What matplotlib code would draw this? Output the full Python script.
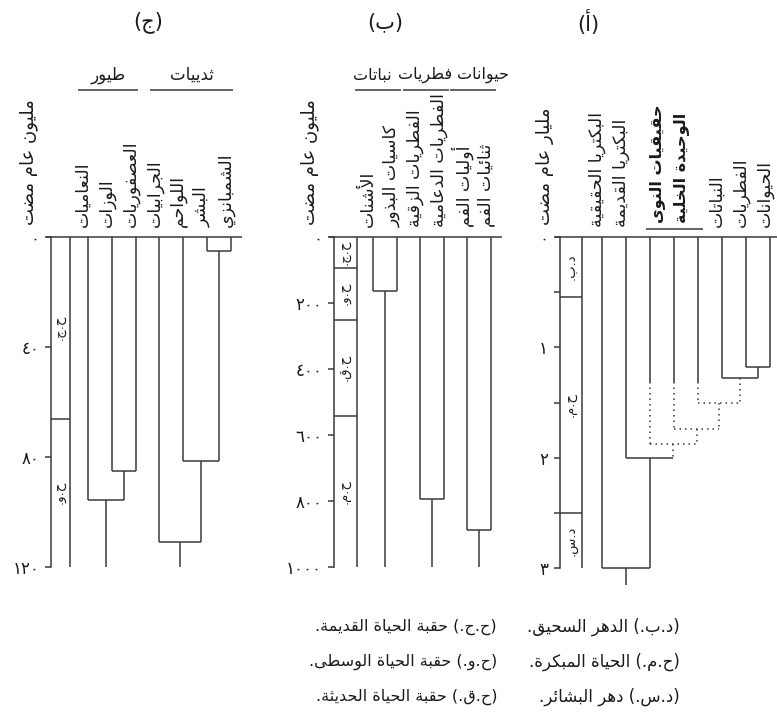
import matplotlib
matplotlib.use("Agg")
import matplotlib.pyplot as plt

# ---------------- data ----------------
# Panel (a): billion years ago
a_leaves = ["البكتريا الحقيقية", "البكتريا القديمة", "", "", "", "النباتات", "الفطريات", "الحيوانات"]
a_nodes = [("L6", "L7", 1.18), ("L5", "N0", 1.28), ("L4", "N1", 1.50),
           ("L3", "N2", 1.74), ("L2", "N3", 1.88), ("L1", "N4", 2.00), ("L0", "N5", 3.00)]
a_roots = [("N6", 3.15)]
a_dotted_stems = ["N1", "N2", "N3", "N4"]
a_dotted_h = ["N2", "N3", "N4"]
a_tip_solid = {2: 1.31, 3: 1.31, 4: 1.31}
a_eras = ["د.ب.", "ح.م.", "د.س."]
a_era_bounds = [0, 0.54, 2.5, 3.0]
a_ticks = [0, 0.5, 1, 1.5, 2, 2.5, 3]
a_tick_labels = ["٠", "", "١", "", "٢", "", "٣"]
a_group = ["حقيقيات النوى", "الوحيدة الخلية"]
a_ylabel = "مليار عام مضت"

# Panel (b): million years ago
b_leaves = ["الأشنات", "كاسيات البذور", "الفطريات الزقية", "الفطريات الدعامية", "أوليات الفم", "ثنائيات الفم"]
b_nodes = [("L0", "L1", 164), ("L2", "L3", 794), ("L4", "L5", 888)]
b_roots = [("N0", 1000), ("N1", 1000), ("N2", 1000)]
b_eras = ["ح.ج.", "ح.و.", "ح.ق.", "ح.م."]
b_era_bounds = [0, 93, 251, 541, 1000]
b_ticks = [0, 200, 400, 600, 800, 1000]
b_tick_labels = ["٠", "٢٠٠", "٤٠٠", "٦٠٠", "٨٠٠", "١٠٠٠"]
b_groups = ["نباتات", "فطريات", "حيوانات"]
b_group_leaves = [(0, 1), (2, 3), (4, 5)]
b_ylabel = "مليون عام مضت"

# Panel (c): million years ago
c_leaves = ["النعاميات", "الوزات", "العصفوريات", "الجرابيات", "اللواحم", "البشر", "الشمبانزي"]
c_nodes = [("L1", "L2", 85), ("L0", "N0", 95.6), ("L5", "L6", 5),
           ("L4", "N2", 81.5), ("L3", "N3", 111)]
c_roots = [("N1", 120), ("N4", 120)]
c_eras = ["ح.ج.", "ح.و."]
c_era_bounds = [0, 66, 120]
c_ticks = [0, 40, 80, 120]
c_tick_labels = ["٠", "٤٠", "٨٠", "١٢٠"]
c_groups = ["طيور", "ثدييات"]
c_group_leaves = [(0, 2), (3, 6)]
c_ylabel = "مليون عام مضت"

titles = ["(ج)", "(ب)", "(أ)"]
legend_right = ["(د.ب.) الدهر السحيق.", "(ح.م.) الحياة المبكرة.", "(د.س.) دهر البشائر."]
legend_left = ["(ح.ح.) حقبة الحياة القديمة.", "(ح.و.) حقبة الحياة الوسطى.", "(ح.ق.) حقبة الحياة الحديثة."]

# ---------------- Arabic shaping ----------------
_F = {
    '\u0621': ('\uFE80', None, None, None),
    '\u0622': ('\uFE81', '\uFE82', None, None),
    '\u0623': ('\uFE83', '\uFE84', None, None),
    '\u0624': ('\uFE85', '\uFE86', None, None),
    '\u0625': ('\uFE87', '\uFE88', None, None),
    '\u0626': ('\uFE89', '\uFE8A', '\uFE8B', '\uFE8C'),
    '\u0627': ('\uFE8D', '\uFE8E', None, None),
    '\u0628': ('\uFE8F', '\uFE90', '\uFE91', '\uFE92'),
    '\u0629': ('\uFE93', '\uFE94', None, None),
    '\u062A': ('\uFE95', '\uFE96', '\uFE97', '\uFE98'),
    '\u062B': ('\uFE99', '\uFE9A', '\uFE9B', '\uFE9C'),
    '\u062C': ('\uFE9D', '\uFE9E', '\uFE9F', '\uFEA0'),
    '\u062D': ('\uFEA1', '\uFEA2', '\uFEA3', '\uFEA4'),
    '\u062E': ('\uFEA5', '\uFEA6', '\uFEA7', '\uFEA8'),
    '\u062F': ('\uFEA9', '\uFEAA', None, None),
    '\u0630': ('\uFEAB', '\uFEAC', None, None),
    '\u0631': ('\uFEAD', '\uFEAE', None, None),
    '\u0632': ('\uFEAF', '\uFEB0', None, None),
    '\u0633': ('\uFEB1', '\uFEB2', '\uFEB3', '\uFEB4'),
    '\u0634': ('\uFEB5', '\uFEB6', '\uFEB7', '\uFEB8'),
    '\u0635': ('\uFEB9', '\uFEBA', '\uFEBB', '\uFEBC'),
    '\u0636': ('\uFEBD', '\uFEBE', '\uFEBF', '\uFEC0'),
    '\u0637': ('\uFEC1', '\uFEC2', '\uFEC3', '\uFEC4'),
    '\u0638': ('\uFEC5', '\uFEC6', '\uFEC7', '\uFEC8'),
    '\u0639': ('\uFEC9', '\uFECA', '\uFECB', '\uFECC'),
    '\u063A': ('\uFECD', '\uFECE', '\uFECF', '\uFED0'),
    '\u0641': ('\uFED1', '\uFED2', '\uFED3', '\uFED4'),
    '\u0642': ('\uFED5', '\uFED6', '\uFED7', '\uFED8'),
    '\u0643': ('\uFED9', '\uFEDA', '\uFEDB', '\uFEDC'),
    '\u0644': ('\uFEDD', '\uFEDE', '\uFEDF', '\uFEE0'),
    '\u0645': ('\uFEE1', '\uFEE2', '\uFEE3', '\uFEE4'),
    '\u0646': ('\uFEE5', '\uFEE6', '\uFEE7', '\uFEE8'),
    '\u0647': ('\uFEE9', '\uFEEA', '\uFEEB', '\uFEEC'),
    '\u0648': ('\uFEED', '\uFEEE', None, None),
    '\u0649': ('\uFEEF', '\uFEF0', None, None),
    '\u064A': ('\uFEF1', '\uFEF2', '\uFEF3', '\uFEF4'),
}
_LA = {'\u0622': ('\uFEF5', '\uFEF6'), '\u0623': ('\uFEF7', '\uFEF8'),
       '\u0625': ('\uFEF9', '\uFEFA'), '\u0627': ('\uFEFB', '\uFEFC')}
_MIRROR = {'(': ')', ')': '('}


def _dual(c):
    return c in _F and _F[c][2] is not None


def ar(s):
    out = []
    i, n = 0, len(s)
    while i < n:
        c = s[i]
        if c not in _F:
            out.append(c)
            i += 1
            continue
        prev = s[i - 1] if i > 0 else None
        pj = prev is not None and _dual(prev) and c != '\u0621'
        if c == '\u0644' and i + 1 < n and s[i + 1] in _LA:
            iso, fin = _LA[s[i + 1]]
            out.append(fin if pj else iso)
            i += 2
            continue
        nxt = s[i + 1] if i + 1 < n else None
        nj = nxt is not None and nxt in _F and nxt != '\u0621' and _dual(c)
        iso, fin, ini, med = _F[c]
        if pj and nj:
            g = med
        elif pj:
            g = fin
        elif nj:
            g = ini
        else:
            g = iso
        out.append(g or iso)
        i += 1
    return ''.join(_MIRROR.get(ch, ch) for ch in reversed(out))


# ---------------- drawing ----------------
W, H = 777, 719
plt.rcParams['font.family'] = ['DejaVu Sans']
fig = plt.figure(figsize=(W / 100, H / 100), dpi=100)
LC = '#3a3a3a'
TC = '#1a1a1a'
LW = 1.1
DOT = (0, (1, 2.6))
LEAF_FS = 12.5


def make_panel(axis_px, leaf0_px, sp_px, right_px, top_px, bot_px, ymax):
    ax = fig.add_axes([axis_px / W, 1 - bot_px / H, (right_px - axis_px) / W, (bot_px - top_px) / H])
    ax.set_xlim((axis_px - leaf0_px) / sp_px, (right_px - leaf0_px) / sp_px)
    ax.set_ylim(ymax, 0)
    ax.patch.set_alpha(0)
    for s in ['top', 'right', 'bottom']:
        ax.spines[s].set_visible(False)
    ax.spines['left'].set_bounds(0, ymax)
    ax.spines['left'].set_color(LC)
    ax.spines['left'].set_linewidth(LW)
    ax.set_xticks([])
    ax.tick_params(axis='y', length=4.5, width=LW, color=LC, pad=4, labelsize=12, labelcolor=TC)
    ax.ppu = (bot_px - top_px) / ymax  # pixels per y unit
    ax.sp = sp_px
    return ax


def ln(ax, xs, ys, dotted=False):
    ax.plot(xs, ys, color=LC, lw=LW, ls=DOT if dotted else '-', clip_on=False,
            solid_capstyle='butt', dash_capstyle='butt')


def draw_tree(ax, n_leaves, nodes, roots, dotted_stems=(), dotted_h=(), tip_solid=None):
    tip_solid = tip_solid or {}
    pos = {f"L{i}": (float(i), 0.0) for i in range(n_leaves)}
    for j, (a, b, age) in enumerate(nodes):
        nid = f"N{j}"
        xa, _ = pos[a]
        xb, _ = pos[b]
        ln(ax, [xa, xb], [age, age], nid in dotted_h)
        for cid in (a, b):
            cx, ct = pos[cid]
            if cid.startswith('L') and int(cid[1:]) in tip_solid:
                s = tip_solid[int(cid[1:])]
                ln(ax, [cx, cx], [ct, s])
                ln(ax, [cx, cx], [s, age], True)
            else:
                ln(ax, [cx, cx], [ct, age], cid in dotted_stems)
        pos[nid] = ((xa + xb) / 2, age)
    for nid, end in roots:
        x, t = pos[nid]
        ln(ax, [x, x], [t, end])


def frame(ax, n_leaves, era_w_px, eras, bounds, ticks, tick_labels, ylabel, ylabel_dx):
    x0 = ax.get_xlim()[0]
    ymax = ax.get_ylim()[0]
    ex = x0 + era_w_px / ax.sp
    # top line at 0
    ln(ax, [x0 - 5 / ax.sp, n_leaves - 1 + 0.45], [0, 0])
    ln(ax, [ex, ex], [0, ymax])
    for b in bounds[1:-1]:
        ln(ax, [x0, ex], [b, b])
    for k, e in enumerate(eras):
        ax.text((x0 + ex) / 2, (bounds[k] + bounds[k + 1]) / 2, ar(e), rotation=90,
                ha='center', va='center', fontsize=9.5, color=TC)
    ax.set_yticks(ticks)
    ax.set_yticklabels(tick_labels)
    ax.annotate(ar(ylabel), xy=(x0, 0), xytext=(ylabel_dx, 12), textcoords='offset pixels',
                rotation=90, ha='center', va='bottom', fontsize=13, color=TC, annotation_clip=False)


def leaf_labels(ax, labels, dx=-5, dy=10, **kw):
    for i, lab in enumerate(labels):
        if lab:
            ax.annotate(ar(lab), xy=(i, 0), xytext=(dx, dy), textcoords='offset pixels',
                        rotation=90, ha='center', va='bottom', color=TC,
                        annotation_clip=False, **kw)


def groups(ax, names, spans, lo=-0.45, hi=0.15, line_px=147, text_px=162, fs=12, shifts=None):
    shifts = shifts or [0] * len(names)
    for name, (i, j), sh in zip(names, spans, shifts):
        yl = -line_px / ax.ppu
        ln(ax, [i + lo, j + hi], [yl, yl])
        ax.text((i + lo + j + hi) / 2 + sh / ax.sp, -text_px / ax.ppu, ar(name), ha='center',
                va='center', fontsize=fs, color=TC)


# Panel (a)
axa = make_panel(560, 602, 24.0, 777, 237, 568, 3.0)
frame(axa, len(a_leaves), 22, a_eras, a_era_bounds, a_ticks, a_tick_labels, a_ylabel, -15)
draw_tree(axa, len(a_leaves), a_nodes, a_roots, a_dotted_stems, a_dotted_h, a_tip_solid)
leaf_labels(axa, a_leaves, fontsize=LEAF_FS)
leaf_labels(axa, [""] * 2 + a_group, dx=7, dy=14, fontsize=11.5, fontweight='bold')
yl = -8 / axa.ppu
ln(axa, [2 - 0.17, 4 + 0.2], [yl, yl])

# Panel (b)
axb = make_panel(334, 373, 23.6, 505, 237, 567, 1000)
frame(axb, len(b_leaves), 23, b_eras, b_era_bounds, b_ticks, b_tick_labels, b_ylabel, -24)
draw_tree(axb, len(b_leaves), b_nodes, b_roots)
leaf_labels(axb, b_leaves, fontsize=LEAF_FS)
groups(axb, b_groups, b_group_leaves, lo=-0.75, hi=0.2, fs=11.5, shifts=[-6, 0, 10])

# Panel (c)
axc = make_panel(51, 88, 23.8, 250, 237, 567, 120)
frame(axc, len(c_leaves), 19, c_eras, c_era_bounds, c_ticks, c_tick_labels, c_ylabel, -22)
draw_tree(axc, len(c_leaves), c_nodes, c_roots)
leaf_labels(axc, c_leaves, fontsize=LEAF_FS)
groups(axc, c_groups, c_group_leaves, lo=-0.4, hi=0.1, fs=12)

# titles
for t, xp in zip(titles, [148, 385, 588]):
    fig.text(xp / W, 1 - 22 / H, ar(t), ha='center', va='center', fontsize=15, color=TC)

# legend
for k in range(3):
    yp = 1 - (627 + 35 * k) / H
    fig.text(497 / W, yp, ar(legend_left[k]), ha='right', va='center', fontsize=11.5, color=TC)
    fig.text(680 / W, yp, ar(legend_right[k]), ha='right', va='center', fontsize=12, color=TC)

fig.savefig("out.png", dpi=100, facecolor='white')
